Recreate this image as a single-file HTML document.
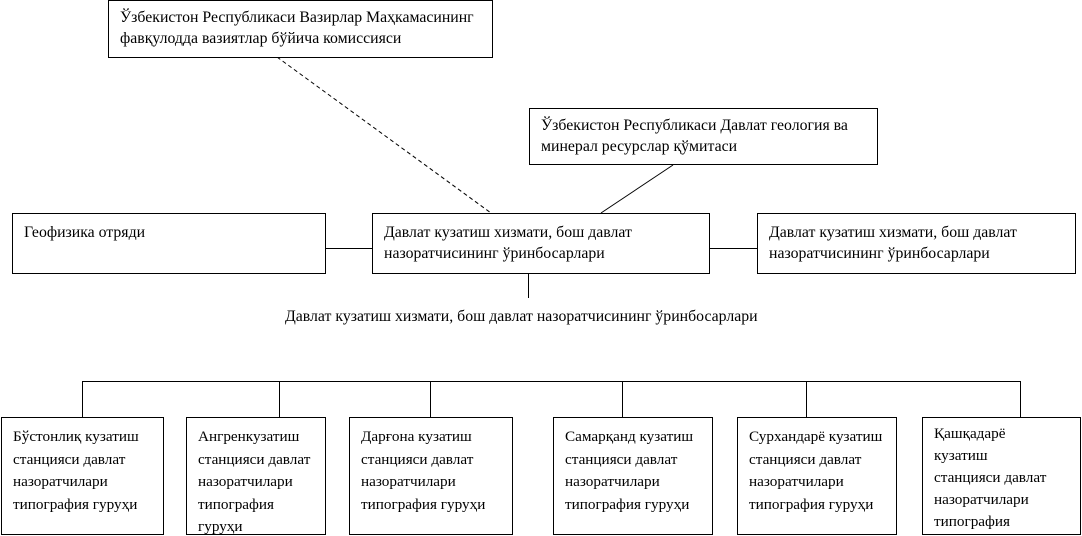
<!DOCTYPE html>
<html><head><meta charset="utf-8"><style>
body{margin:0;width:1082px;height:536px;background:#fff;position:relative;overflow:hidden;font-family:"Liberation Serif",serif;font-size:15.8px;color:#000}
.b{position:absolute;border:1px solid #000;box-sizing:border-box;line-height:21px;padding:6px 0 0 11px;background:#fff;white-space:nowrap}
.s{line-height:22.5px;padding-top:8px;font-size:15.2px}
svg{position:absolute;left:0;top:0}
.t{position:absolute;white-space:nowrap}
</style></head><body>
<svg width="1082" height="536">
<g stroke="#000" stroke-width="1" fill="none">
<line x1="277" y1="57" x2="491" y2="213" stroke-dasharray="4,3"/>
<line x1="673" y1="165" x2="601" y2="213"/>
<line x1="325" y1="248.5" x2="372" y2="248.5"/>
<line x1="709" y1="248.5" x2="757" y2="248.5"/>
<line x1="528.5" y1="273" x2="528.5" y2="298"/>
<line x1="82" y1="381.5" x2="1020" y2="381.5"/>
<line x1="82.5" y1="381" x2="82.5" y2="417"/>
<line x1="279.5" y1="381" x2="279.5" y2="417"/>
<line x1="430.5" y1="381" x2="430.5" y2="417"/>
<line x1="622.5" y1="381" x2="622.5" y2="417"/>
<line x1="806.5" y1="381" x2="806.5" y2="417"/>
<line x1="1020.5" y1="381" x2="1020.5" y2="417"/>
</g></svg>
<div class="b" style="left:108px;top:0;width:385px;height:58px">Ўзбекистон Республикаси Вазирлар Маҳкамасининг<br>фавқулодда вазиятлар бўйича комиссияси</div>
<div class="b" style="left:529px;top:108px;width:349px;height:57px">Ўзбекистон Республикаси Давлат геология ва<br>минерал ресурслар қўмитаси</div>
<div class="b" style="left:12px;top:213px;width:314px;height:61px;padding-top:8px">Геофизика отряди</div>
<div class="b" style="left:372px;top:213px;width:338px;height:61px;padding-top:8px">Давлат кузатиш хизмати, бош давлат<br>назоратчисининг ўринбосарлари</div>
<div class="b" style="left:757px;top:213px;width:319px;height:61px;padding-top:8px">Давлат кузатиш хизмати, бош давлат<br>назоратчисининг ўринбосарлари</div>
<div class="t" style="left:285px;top:308px">Давлат кузатиш хизмати, бош давлат назоратчисининг ўринбосарлари</div>
<div class="b s" style="left:1px;top:417px;width:163px;height:118px">Бўстонлиқ кузатиш<br>станцияси давлат<br>назоратчилари<br>типография гуруҳи</div>
<div class="b s" style="left:186px;top:417px;width:140px;height:118px;overflow:hidden">Ангренкузатиш<br>станцияси давлат<br>назоратчилари<br>типография<br>гуруҳи</div>
<div class="b s" style="left:349px;top:417px;width:164px;height:118px">Дарғона кузатиш<br>станцияси давлат<br>назоратчилари<br>типография гуруҳи</div>
<div class="b s" style="left:553px;top:417px;width:160px;height:118px">Самарқанд кузатиш<br>станцияси давлат<br>назоратчилари<br>типография гуруҳи</div>
<div class="b s" style="left:737px;top:417px;width:160px;height:118px">Сурхандарё кузатиш<br>станцияси давлат<br>назоратчилари<br>типография гуруҳи</div>
<div class="b s" style="left:922px;top:417px;width:159px;height:118px;padding-top:5px;line-height:22px;overflow:hidden">Қашқадарё<br>кузатиш<br>станцияси давлат<br>назоратчилари<br>типография</div>
</body></html>
